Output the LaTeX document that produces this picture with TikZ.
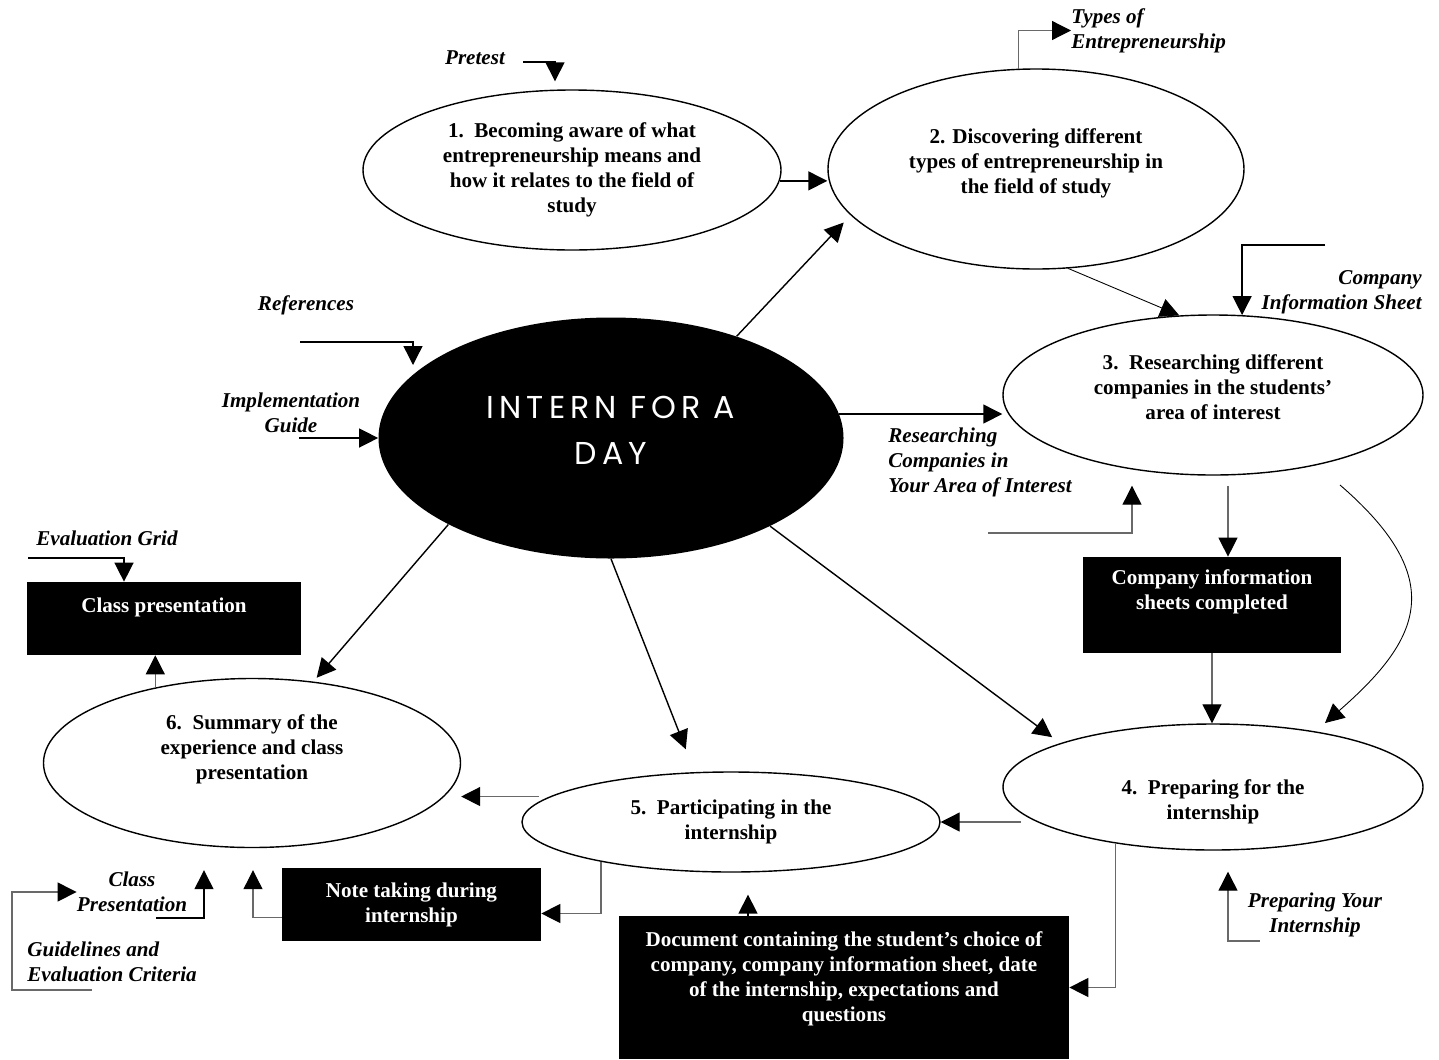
\documentclass[tikz,border=0pt]{standalone}
\usepackage{fontspec}
\setmainfont{Liberation Serif}
\newfontfamily\hubfont[LetterSpace=16]{Poppins}
\usepackage{tikz}
\usetikzlibrary{arrows.meta,shapes.geometric}
\definecolor{inkc}{RGB}{0,0,0}
\definecolor{wirec}{RGB}{105,105,105}
\newcommand{\bodysize}{\fontsize{12}{14.2}\selectfont}
\tikzset{
  stage/.style   = {ellipse, draw=inkc, line width=0.8pt, fill=white, inner sep=0pt,
                    align=center, font=\bodysize\bfseries},
  hub/.style     = {ellipse, fill=inkc, inner sep=0pt, text=white, align=center,
                    font=\hubfont\fontsize{18}{26}\selectfont},
  outcome/.style = {rectangle, fill=inkc, inner sep=0pt, text=white, align=center,
                    font=\bodysize\bfseries},
  restext/.style = {inner sep=0pt, font=\bodysize\bfseries\itshape},
  flow/.style    = {-{Triangle[length=3.8mm,width=3.8mm]}, line width=0.8pt, draw=inkc},
  feed/.style    = {-{Triangle[length=3.8mm,width=3.8mm,color=inkc]}, line width=0.7pt, draw=wirec},
}

\begin{document}
\begin{tikzpicture}[x=0.2mm, y=-0.2mm]
\useasboundingbox (0,0) rectangle (1439,1059);

% ---------- hub ----------
\node[hub, minimum width=93mm, minimum height=48.2mm, text depth=3mm] (hub) at (611,438) {INTERN FOR A\\DAY};

% ---------- the six stages ----------
\node[stage, minimum width=83.6mm, minimum height=32mm] (s1) at (572,170)
  {1.\ \ Becoming aware of what\\entrepreneurship means and\\how it relates to the field of\\study};
\node[stage, minimum width=83.2mm, minimum height=40mm, text depth=3.3mm] (s2) at (1036,169)
  {2. Discovering different\\types of entrepreneurship in\\the field of study};
\node[stage, minimum width=84mm, minimum height=32mm, text depth=3.2mm] (s3) at (1213,395)
  {3.\ \ Researching different\\companies in the students'\\area of interest};
\node[stage, minimum width=84mm, minimum height=25.2mm, text height=14mm] (s4) at (1213,787)
  {4.\ \ Preparing for the\\internship};
\node[stage, minimum width=83.6mm, minimum height=20mm] (s5) at (731,822)
  {5.\ \ Participating in the\\internship};
\node[stage, minimum width=83.4mm, minimum height=33.8mm, text depth=6.5mm] (s6) at (252,763)
  {6.\ \ Summary of the\\experience and class\\presentation};

% ---------- outcomes ----------
\node[outcome, minimum width=51.6mm, minimum height=19.2mm, text depth=6.1mm] (sheets) at (1212,605)
  {Company information\\sheets completed};
\node[outcome, minimum width=54.8mm, minimum height=14.6mm, text depth=5.3mm] (pres) at (164,618.5)
  {Class presentation};
\node[outcome, minimum width=51.8mm, minimum height=14.6mm] (notes) at (411.5,904.5)
  {Note taking during\\internship};
\node[outcome, minimum width=90mm, minimum height=28.6mm, text depth=4.5mm] (doc) at (844,987.5)
  {Document containing the student's choice of\\company, company information sheet, date\\of the internship, expectations and\\questions};

% ---------- resource labels ----------
\node[restext] (pretest) at (475,58) {Pretest};
\node[restext, anchor=west, align=left] (types) at (1071,30.5) {Types of\\Entrepreneurship};
\node[restext] (refs) at (306,305) {References};
\node[restext, align=center] (guide) at (291,413) {Implementation\\Guide};
\node[restext, anchor=east, align=right] (cis) at (1422,292.5) {Company\\Information Sheet};
\node[restext, anchor=west, align=left] (rci) at (888,462) {Researching\\Companies in\\Your Area of Interest};
\node[restext, anchor=west] (evalg) at (36,538) {Evaluation Grid};
\node[restext, align=center] (cpres) at (132,892) {Class\\Presentation};
\node[restext, anchor=west, align=left] (crit) at (27,962) {Guidelines and\\Evaluation Criteria};
\node[restext, align=center] (pyi) at (1315,915) {Preparing Your\\Internship};

% ---------- hub spokes ----------
\draw[flow, shorten >=2mm] (hub.39) -- (s2.194);
\draw[flow] (hub.6) -- (hub.6 -| s3.west);
\draw[flow, shorten >=2mm] (hub.-29.5) -- (s4.164);
\draw[flow, shorten >=4.9mm] (hub.south) -- (s5.126);
\draw[flow, shorten >=1mm] (hub.208) -- (s6.53);

% ---------- stage to stage ----------
\draw[flow] (s1.-3) -- (s1.-3 -| s2.west);
\draw[flow, line width=0.5pt] (s2.-72) -- (s3.113);
\coordinate (s3out) at ([shift={(15,10)}]s3.south);
\draw[feed] (s3out) -- (s3out |- sheets.north);
\draw[feed] (sheets.south) -- (sheets.south |- s4.north);
\draw[flow, line width=0.5pt] ([shift={(127,90)}]s3.center)
  .. controls +(110,95) and +(95,-83) .. ([shift={(112,-64)}]s4.center);
\draw[feed] ([shift={(80,0)}]s5.east) -- (s5.east);
\draw[feed] (s4.210) |- (doc.east);
\draw[flow] ([shift={(-96,0)}]doc.north) -- ++(0,-21);
\draw[feed] (s5.197) |- ([shift={(0,9)}]notes.east);
\draw[feed] ([shift={(0,13)}]notes.west) -| ([shift={(1,22)}]s6.south);
\draw[feed, shorten <=2.2mm] (s5.172) -- (s5.172 -| s6.east);
\draw[feed] (s6.142) -- (s6.142 |- pres.south);

% ---------- resources feeding in ----------
\coordinate (pretestIn) at (523,62);
\draw[flow] (pretestIn) -| ([shift={(-17,-8)}]s1.north);
\draw[feed] (s2.100) |- (types.west);
\coordinate (refsIn) at (300,342);
\draw[flow] (refsIn) -| ([shift={(-198,-73)}]hub.center);
\draw[flow] ([shift={(-79,0)}]hub.west) -- (hub.west);
\coordinate (cisIn) at (1325,245);
\draw[flow] (cisIn) -| (s3.70);
\coordinate (rciIn) at (988,533);
\draw[feed] (rciIn) -| ([shift={(-81,10)}]s3.south);
\coordinate (evalIn) at (28,558);
\draw[flow] (evalIn) -| ([shift={(-40,0)}]pres.north);
\coordinate (cpresIn) at (156,918);
\draw[flow] (cpresIn) -| ([shift={(-48,22)}]s6.south);
\coordinate (critIn) at (92,990);
\draw[feed] (critIn) -- ++(-80,0) |- (cpres.west);
\coordinate (pyiIn) at (1260,941);
\draw[feed] (pyiIn) -| ([shift={(15,21)}]s4.south);

\end{tikzpicture}
\end{document}
